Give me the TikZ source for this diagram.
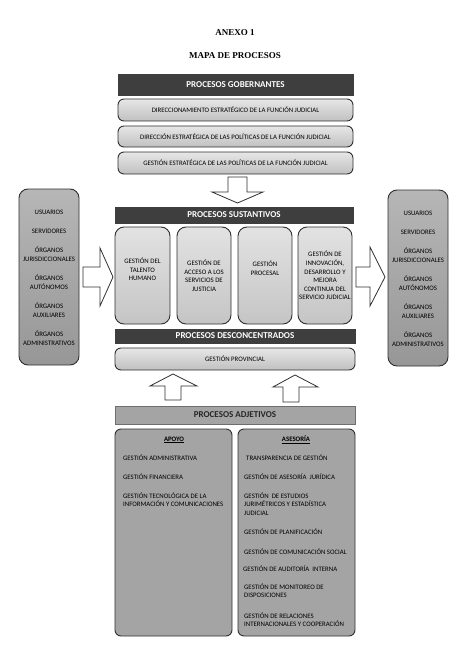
\documentclass[tikz,border=0pt]{standalone}
\usepackage{fontspec}
\setmainfont{Carlito}
\newfontfamily\titlefont{Liberation Serif}
\definecolor{bardark}{HTML}{3E3E3E}
\definecolor{panelgray}{HTML}{A4A4A4}
\definecolor{lightbox}{HTML}{D6D6D6}
\definecolor{edge}{HTML}{303030}
\newcommand{\itemlines}[1]{\begin{tabular}[t]{@{}l@{}}#1\end{tabular}}
\tikzset{
  bar/.style={fill=bardark, draw=bardark, text=white, inner sep=0pt,
    font=\bfseries\fontsize{9}{10}\selectfont},
  gbox/.style={rounded corners=6pt, draw=edge, line width=0.9pt,
    top color=lightbox!60!white, bottom color=lightbox!90!black,
    inner sep=0pt, font=\fontsize{6.8}{8}\selectfont},
  sbox/.style={rounded corners=9pt, draw=edge, line width=0.9pt,
    top color=lightbox!70!white, bottom color=lightbox!92!black,
    inner sep=0pt, align=center, font=\fontsize{6.8}{8.6}\selectfont},
  panel/.style={rounded corners=9pt, draw=edge, line width=0.9pt,
    top color=panelgray!80!white, bottom color=panelgray!92!black,
    inner sep=0pt},
  ptext/.style={align=center, inner sep=0pt, font=\fontsize{6.8}{9}\selectfont},
  abox/.style={rounded corners=6pt, draw=edge, line width=0.9pt,
    fill=panelgray, inner sep=0pt},
  item/.style={anchor=base west, inner sep=0pt,
    font=\fontsize{6.8}{8.5}\selectfont},
  blockarrow/.style={draw=edge, line width=0.8pt, fill=white, line join=miter},
  title/.style={inner sep=0pt, font=\titlefont\bfseries\fontsize{9}{10}\selectfont}
}
\begin{document}
\begin{tikzpicture}[x=1pt,y=-1pt]
\useasboundingbox (0,0) rectangle (457,666);
\fill[white] (0,0) rectangle (457,666);

% titles
\node[title] (anexo) at (235,33) {ANEXO 1};
\node[title] (mapa) at (235,56) {MAPA DE PROCESOS};

% gobernantes
\node[bar, minimum width=235pt, minimum height=21pt] (gob) at (235.5,84.5) {PROCESOS GOBERNANTES};
\node[gbox, minimum width=235pt, minimum height=22pt] (g1) at (235.5,110) {DIRECCIONAMIENTO ESTRATÉGICO DE LA FUNCIÓN JUDICIAL};
\node[gbox, minimum width=235pt, minimum height=21pt] (g2) at (235.5,136.5) {DIRECCIÓN ESTRATÉGICA DE LAS POLÍTICAS DE LA FUNCIÓN JUDICIAL};
\node[gbox, minimum width=235pt, minimum height=22pt] (g3) at (235.5,163) {GESTIÓN ESTRATÉGICA DE LAS POLÍTICAS DE LA FUNCIÓN JUDICIAL};

% sustantivos
\node[bar, minimum width=238pt, minimum height=16pt] (sus) at (234,215) {PROCESOS SUSTANTIVOS};
\node[sbox, minimum width=55pt, minimum height=97pt] (s1) at (142.5,275.5) {GESTIÓN DEL\\TALENTO\\HUMANO\\[4pt]};
\node[sbox, minimum width=54pt, minimum height=97pt] (s2) at (204,275.5) {GESTIÓN DE\\ACCESO A LOS\\SERVICIOS DE\\JUSTICIA};
\node[sbox, minimum width=54pt, minimum height=97pt] (s3) at (265,275.5) {GESTIÓN\\PROCESAL\\[6pt]};
\node[sbox, minimum width=54pt, minimum height=97pt] (s4) at (325,275.5) {GESTIÓN DE\\INNOVACIÓN,\\DESARROLLO Y\\MEJORA\\CONTINUA DEL\\SERVICIO JUDICIAL};

% desconcentrados
\node[bar, minimum width=240pt, minimum height=14pt] (des) at (235,336) {PROCESOS DESCONCENTRADOS};
\node[gbox, minimum width=240pt, minimum height=22pt] (prov) at (235,359) {GESTIÓN PROVINCIAL};

% side panels
\node[panel, minimum width=60pt, minimum height=176pt] (lp) at (49,277) {};
\node[ptext] (lpt) at (49,277.5) {USUARIOS\\[10pt]SERVIDORES\\[10pt]ÓRGANOS\\JURISDICCIONALES\\[10pt]ÓRGANOS\\AUTÓNOMOS\\[10pt]ÓRGANOS\\AUXILIARES\\[10pt]ÓRGANOS\\ADMINISTRATIVOS};
\node[panel, minimum width=60pt, minimum height=176pt] (rp) at (418,278) {};
\node[ptext] (rpt) at (418,278.5) {USUARIOS\\[10pt]SERVIDORES\\[10pt]ÓRGANOS\\JURISDICCIONALES\\[10pt]ÓRGANOS\\AUTÓNOMOS\\[10pt]ÓRGANOS\\AUXILIARES\\[10pt]ÓRGANOS\\ADMINISTRATIVOS};

% adjetivos
\node[bar, fill=panelgray, draw=edge!70, line width=0.6pt, text=black!85, minimum width=240pt, minimum height=18pt] (adj) at (235,415) {PROCESOS ADJETIVOS};
\node[abox, minimum width=117pt, minimum height=207pt] (apoyo) at (173.5,532.5) {};
\node[abox, minimum width=117pt, minimum height=207pt] (ases) at (296.5,532.5) {};

\node[inner sep=0pt, font=\bfseries\fontsize{6.8}{8}\selectfont] (apt) at (174,440) {\underline{APOYO}};
\node[inner sep=0pt, font=\bfseries\fontsize{6.8}{8}\selectfont] (ast) at (296,440) {\underline{ASESORÍA}};

\node[item] (a1) at (123,460.3) {GESTIÓN ADMINISTRATIVA};
\node[item] (a2) at (123,479.3) {GESTIÓN FINANCIERA};
\node[item] (a3) at (123,498.3) {\itemlines{GESTIÓN TECNOLÓGICA DE LA\\INFORMACIÓN Y COMUNICACIONES}};

\node[item] (b1) at (246,460.3) {TRANSPARENCIA DE GESTIÓN};
\node[item] (b2) at (244,479.3) {GESTIÓN DE ASESORÍA \ JURÍDICA};
\node[item] (b3) at (244,498.3) {\itemlines{GESTIÓN \ DE ESTUDIOS\\JURIMÉTRICOS Y ESTADÍSTICA\\JUDICIAL}};
\node[item] (b4) at (244,534.3) {GESTIÓN DE PLANIFICACIÓN};
\node[item] (b5) at (244,554.3) {GESTIÓN DE COMUNICACIÓN SOCIAL};
\node[item] (b6) at (243,571.3) {GESTIÓN DE AUDITORÍA \ INTERNA};
\node[item] (b7) at (244,589.3) {\itemlines{GESTIÓN DE MONITOREO DE\\DISPOSICIONES}};
\node[item] (b8) at (244,618.3) {\itemlines{GESTIÓN DE RELACIONES\\INTERNACIONALES Y COOPERACIÓN}};

% block arrows
\draw[blockarrow] (228,177) -- (247,177) -- (247,192) -- (263,192) -- (237.5,203) -- (212,192) -- (228,192) -- cycle;
\draw[blockarrow] (83,267) -- (100,267) -- (100,248) -- (113,277) -- (100,306) -- (100,287) -- (83,287) -- cycle;
\draw[blockarrow] (356,267) -- (370,267) -- (370,247) -- (385,277) -- (370,306) -- (370,287) -- (356,287) -- cycle;
\draw[blockarrow] (165,400) -- (165,386) -- (150,386) -- (173,374) -- (197,386) -- (181,386) -- (181,400) -- cycle;
\draw[blockarrow] (283,402) -- (283,387) -- (273,387) -- (295,375) -- (318,387) -- (299,387) -- (299,402) -- cycle;
\end{tikzpicture}
\end{document}
